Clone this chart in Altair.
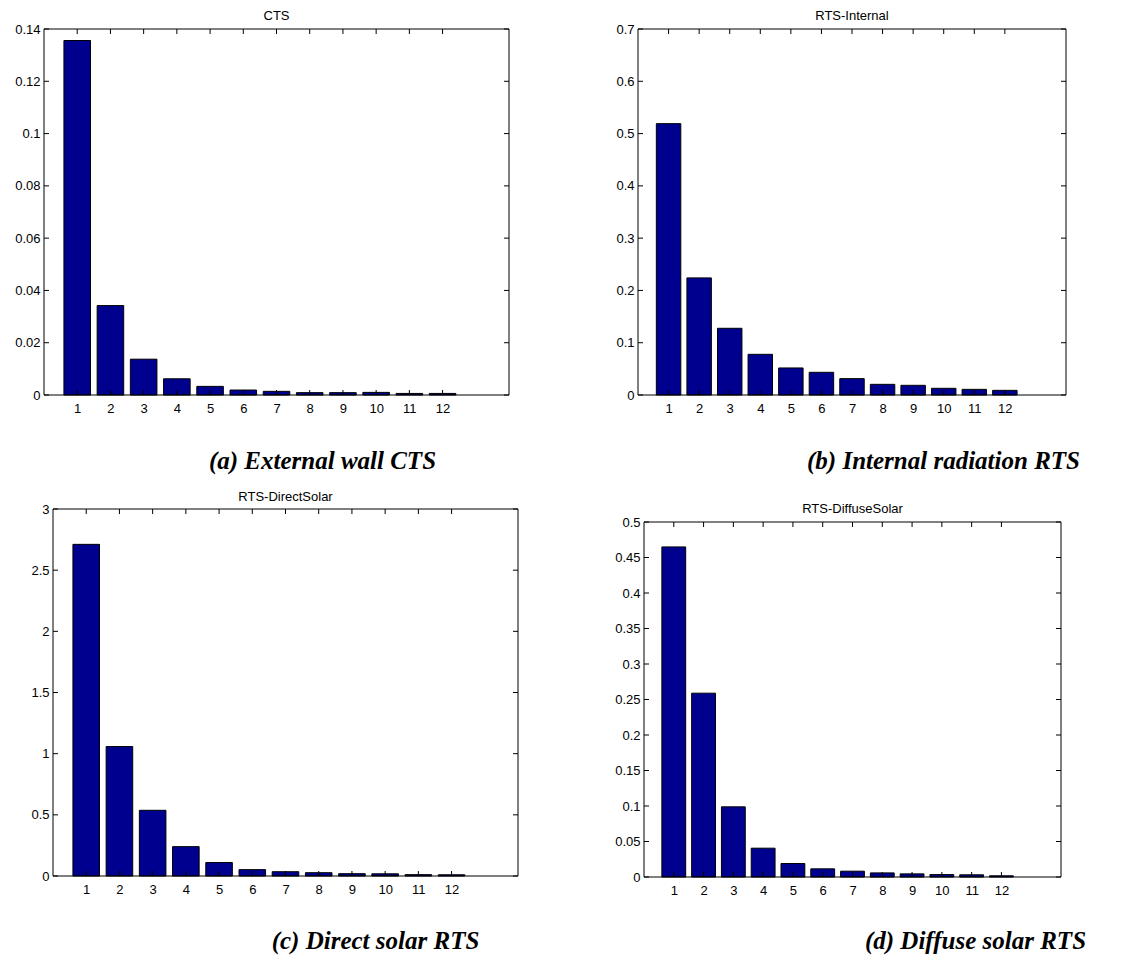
import altair as alt
import pandas as pd

# ---------------- data ----------------
lags = list(range(1, 13))

cts_external = [0.1356, 0.0342, 0.0137, 0.0062, 0.0033, 0.0019, 0.0014, 0.0009, 0.0009, 0.0010, 0.0006, 0.0006]
rts_internal = [0.519, 0.224, 0.1276, 0.0778, 0.0517, 0.0434, 0.0313, 0.0204, 0.0185, 0.0128, 0.0108, 0.0089]
rts_direct = [2.711, 1.058, 0.537, 0.240, 0.110, 0.052, 0.035, 0.027, 0.019, 0.018, 0.011, 0.010]
rts_diffuse = [0.4649, 0.2589, 0.0988, 0.0406, 0.0190, 0.0115, 0.0082, 0.0058, 0.0044, 0.0034, 0.0031, 0.0017]

cts_yticks = [0, 0.02, 0.04, 0.06, 0.08, 0.1, 0.12, 0.14]
internal_yticks = [0, 0.1, 0.2, 0.3, 0.4, 0.5, 0.6, 0.7]
direct_yticks = [0, 0.5, 1, 1.5, 2, 2.5, 3]
diffuse_yticks = [0, 0.05, 0.1, 0.15, 0.2, 0.25, 0.3, 0.35, 0.4, 0.45, 0.5]

x_domain = [0, 14]

titles = ["CTS", "RTS-Internal", "RTS-DirectSolar", "RTS-DiffuseSolar"]
captions = ["(a) External wall CTS", "(b) Internal radiation RTS",
            "(c) Direct solar RTS", "(d) Diffuse solar RTS"]

# ---------------- styling / layout ----------------
BAR = "#00008F"
SANS = "Liberation Sans"
SERIF = "Liberation Serif"
CELL_W, CELL_H = 474, 368


def panel(values, yticks, title, caption, xr, yr, cap_x, cap_y, title_dy):
    ymax = yticks[-1]
    xs = alt.Scale(domain=x_domain, range=xr, nice=False)
    ys = alt.Scale(domain=[0, ymax], range=yr, nice=False)

    xaxis = alt.Axis(values=lags, format="d", domain=False, ticks=False, tickSize=0,
                     grid=False, labelPadding=7, labelFlush=False, labelOverlap=False,
                     offset=yr[0] - CELL_H,
                     title=caption, titleX=cap_x, titleY=cap_y, titleAlign="center",
                     titleBaseline="alphabetic", titleFont=SERIF, titleFontSize=25,
                     titleFontStyle="italic", titleFontWeight="bold", titleColor="black")
    yaxis = alt.Axis(values=yticks, format="~g", domain=False, ticks=False, tickSize=0,
                     grid=False, labelPadding=4, labelFlush=False, labelOverlap=False,
                     offset=-xr[0], title=None)

    def X(f):
        return alt.X(f, scale=xs, axis=xaxis)

    def Y(f):
        return alt.Y(f, scale=ys, axis=yaxis)

    bars_df = pd.DataFrame({"lag": lags, "value": values})
    bars = alt.Chart(bars_df).transform_calculate(
        x0="datum.lag - 0.4", x1="datum.lag + 0.4", base="0"
    ).mark_bar(color=BAR, stroke="black", strokeWidth=1).encode(
        x=X("x0:Q"), x2="x1:Q", y=Y("value:Q"), y2="base:Q",
    )

    box_df = pd.DataFrame({"x0": [x_domain[0]], "x1": [x_domain[1]], "y0": [0], "y1": [ymax]})
    box = alt.Chart(box_df).mark_rect(fillOpacity=0, stroke="black", strokeWidth=1).encode(
        x=X("x0:Q"), x2="x1:Q", y=Y("y0:Q"), y2="y1:Q",
    )

    xt_df = pd.DataFrame({"lag": lags, "top": [ymax] * len(lags), "bot": [0] * len(lags)})
    top_ticks = alt.Chart(xt_df).mark_tick(orient="vertical", size=5, thickness=1,
                                           color="black", yOffset=2.5, opacity=1).encode(
        x=X("lag:Q"), y=Y("top:Q"))
    bot_ticks = alt.Chart(xt_df).mark_tick(orient="vertical", size=5, thickness=1,
                                           color="black", yOffset=-2.5, opacity=1).encode(
        x=X("lag:Q"), y=Y("bot:Q"))

    yt_df = pd.DataFrame({"tick": yticks, "left": [x_domain[0]] * len(yticks),
                          "right": [x_domain[1]] * len(yticks)})
    left_ticks = alt.Chart(yt_df).mark_tick(orient="horizontal", size=5, thickness=1,
                                            color="black", xOffset=2.5, opacity=1).encode(
        x=X("left:Q"), y=Y("tick:Q"))
    right_ticks = alt.Chart(yt_df).mark_tick(orient="horizontal", size=5, thickness=1,
                                             color="black", xOffset=-2.5, opacity=1).encode(
        x=X("right:Q"), y=Y("tick:Q"))

    t_df = pd.DataFrame({"x": [(x_domain[0] + x_domain[1]) / 2], "y": [ymax], "label": [title]})
    ttl = alt.Chart(t_df).mark_text(dy=title_dy, baseline="alphabetic", align="center",
                                    font=SANS, fontSize=13, color="black").encode(
        x=X("x:Q"), y=Y("y:Q"), text="label:N")

    return alt.layer(bars, bot_ticks, box, top_ticks, left_ticks, right_ticks, ttl).properties(
        width=CELL_W, height=CELL_H)


pa = panel(cts_external, cts_yticks, titles[0], captions[0],
           xr=[0, 465], yr=[366, 0], cap_x=278, cap_y=73, title_dy=-9)
pb = panel(rts_internal, internal_yticks, titles[1], captions[1],
           xr=[0, 428], yr=[366, 0], cap_x=305, cap_y=73, title_dy=-9)
pc = panel(rts_direct, direct_yticks, titles[2], captions[2],
           xr=[9, 474], yr=[367, 0], cap_x=331, cap_y=72, title_dy=-8)
pd_ = panel(rts_diffuse, diffuse_yticks, titles[3], captions[3],
            xr=[6, 423], yr=[368, 13], cap_x=337, cap_y=71, title_dy=-9)

chart = alt.concat(pa, pb, pc, pd_, columns=2,
                   spacing={"row": 112, "column": 120}, bounds="flush").properties(
    padding={"left": 14, "top": 10, "right": 5, "bottom": 5},
    background="white",
).configure_view(stroke=None).configure_axis(
    labelFont=SANS, labelFontSize=13, labelColor="black"
)

chart.save("out.html", embed_options={"renderer": "svg", "actions": False})
